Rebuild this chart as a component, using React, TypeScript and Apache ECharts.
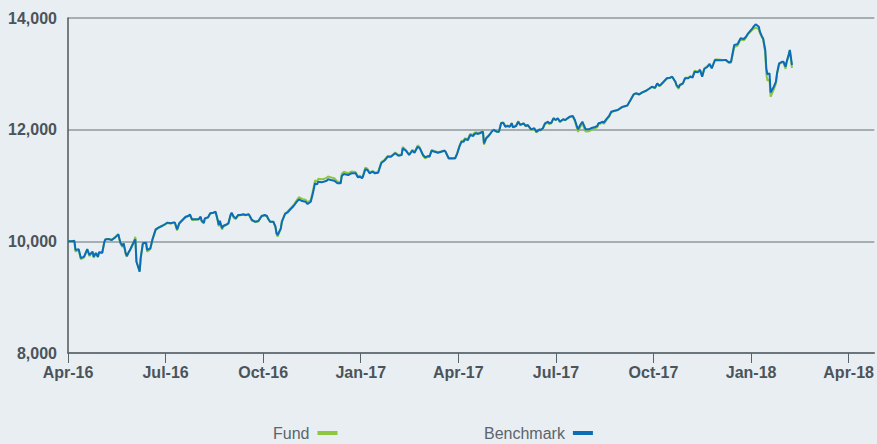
import React, { useEffect, useRef } from "react";
import * as echarts from "echarts";

const startDate = "2016-04-01";
const xTickLabels = ["Apr-16", "Jul-16", "Oct-16", "Jan-17", "Apr-17", "Jul-17", "Oct-17", "Jan-18", "Apr-18"];
const seriesNames = ["Fund", "Benchmark"];

const dates = [
  "2016-04-01","2016-04-05","2016-04-07","2016-04-08","2016-04-11","2016-04-13","2016-04-16","2016-04-19","2016-04-21","2016-04-24",
  "2016-04-25","2016-04-27","2016-04-29","2016-04-30","2016-05-03","2016-05-05","2016-05-06","2016-05-09","2016-05-12","2016-05-15",
  "2016-05-18","2016-05-20","2016-05-22","2016-05-23","2016-05-25","2016-05-26","2016-05-28","2016-05-29","2016-06-01","2016-06-03",
  "2016-06-04","2016-06-05","2016-06-07","2016-06-08","2016-06-10","2016-06-13","2016-06-14","2016-06-17","2016-06-19","2016-06-22",
  "2016-06-25","2016-06-28","2016-07-01","2016-07-03","2016-07-06","2016-07-09","2016-07-10","2016-07-12","2016-07-14","2016-07-17",
  "2016-07-20","2016-07-23","2016-07-24","2016-07-26","2016-07-29","2016-08-01","2016-08-03","2016-08-04","2016-08-06","2016-08-07",
  "2016-08-10","2016-08-12","2016-08-15","2016-08-17","2016-08-19","2016-08-20","2016-08-21","2016-08-23","2016-08-24","2016-08-26",
  "2016-08-29","2016-08-31","2016-09-01","2016-09-03","2016-09-05","2016-09-07","2016-09-09","2016-09-12","2016-09-14","2016-09-17",
  "2016-09-18","2016-09-20","2016-09-23","2016-09-26","2016-09-29","2016-10-02","2016-10-04","2016-10-05","2016-10-07","2016-10-10",
  "2016-10-12","2016-10-13","2016-10-14","2016-10-17","2016-10-18","2016-10-21","2016-10-23","2016-10-26","2016-10-29","2016-11-01",
  "2016-11-03","2016-11-06","2016-11-09","2016-11-11","2016-11-14","2016-11-16","2016-11-18","2016-11-20","2016-11-21","2016-11-24",
  "2016-11-26","2016-11-29","2016-11-30","2016-12-03","2016-12-06","2016-12-09","2016-12-12","2016-12-13","2016-12-15","2016-12-19",
  "2016-12-22","2016-12-24","2016-12-26","2016-12-28","2016-12-30","2017-01-01","2017-01-02","2017-01-04","2017-01-06","2017-01-08",
  "2017-01-11","2017-01-13","2017-01-16","2017-01-19","2017-01-22","2017-01-25","2017-01-28","2017-02-01","2017-02-04","2017-02-07",
  "2017-02-08","2017-02-11","2017-02-14","2017-02-17","2017-02-19","2017-02-22","2017-02-24","2017-02-27","2017-03-01","2017-03-04",
  "2017-03-05","2017-03-07","2017-03-10","2017-03-13","2017-03-16","2017-03-19","2017-03-20","2017-03-23","2017-03-26","2017-03-29",
  "2017-03-31","2017-04-02","2017-04-04","2017-04-06","2017-04-07","2017-04-10","2017-04-12","2017-04-15","2017-04-16","2017-04-18",
  "2017-04-19","2017-04-21","2017-04-24","2017-04-25","2017-04-27","2017-04-30","2017-05-03","2017-05-04","2017-05-07","2017-05-09",
  "2017-05-11","2017-05-13","2017-05-15","2017-05-17","2017-05-19","2017-05-21","2017-05-22","2017-05-25","2017-05-27","2017-05-29",
  "2017-06-01","2017-06-03","2017-06-05","2017-06-08","2017-06-11","2017-06-13","2017-06-16","2017-06-17","2017-06-19","2017-06-21",
  "2017-06-24","2017-06-25","2017-06-27","2017-06-29","2017-07-01","2017-07-03","2017-07-05","2017-07-08","2017-07-10","2017-07-12",
  "2017-07-14","2017-07-17","2017-07-19","2017-07-21","2017-07-22","2017-07-24","2017-07-26","2017-07-28","2017-07-29","2017-08-01",
  "2017-08-03","2017-08-06","2017-08-09","2017-08-10","2017-08-12","2017-08-14","2017-08-15","2017-08-18","2017-08-20","2017-08-22",
  "2017-08-25","2017-08-28","2017-09-01","2017-09-06","2017-09-09","2017-09-12","2017-09-14","2017-09-17","2017-09-20","2017-09-23",
  "2017-09-26","2017-09-29","2017-10-02","2017-10-04","2017-10-06","2017-10-07","2017-10-10","2017-10-13","2017-10-16","2017-10-18",
  "2017-10-21","2017-10-22","2017-10-24","2017-10-25","2017-10-28","2017-10-30","2017-11-02","2017-11-04","2017-11-06","2017-11-08",
  "2017-11-11","2017-11-13","2017-11-15","2017-11-17","2017-11-20","2017-11-22","2017-11-24","2017-11-27","2017-11-30","2017-12-04",
  "2017-12-07","2017-12-10","2017-12-12","2017-12-15","2017-12-18","2017-12-21","2017-12-24","2017-12-26","2017-12-28","2018-01-01",
  "2018-01-02","2018-01-04","2018-01-05","2018-01-07","2018-01-08","2018-01-10","2018-01-11","2018-01-13","2018-01-14","2018-01-15",
  "2018-01-17","2018-01-18","2018-01-21","2018-01-23","2018-01-24","2018-01-26","2018-01-29","2018-01-30","2018-02-01","2018-02-02",
  "2018-02-04","2018-02-05","2018-02-07"
];

const benchmark = [
  10000,10000,10010,9845,9860,9700,9725,9860,9755,9815,
  9725,9790,9725,9805,9795,9990,10035,10040,10025,10070,
  10125,9975,9915,9965,9785,9737,9815,9845,9965,10036,
  9635,9576,9455,9700,9965,9975,9845,9875,10036,10215,
  10250,10275,10310,10335,10323,10340,10334,10215,10323,10382,
  10441,10459,10484,10395,10395,10395,10441,10369,10334,10412,
  10430,10502,10513,10531,10382,10292,10369,10233,10275,10292,
  10323,10472,10513,10441,10412,10472,10472,10484,10472,10484,
  10454,10382,10352,10364,10454,10472,10454,10412,10352,10352,
  10262,10144,10113,10233,10352,10490,10513,10574,10633,10710,
  10753,10722,10710,10669,10710,10860,11039,11021,11068,11057,
  11068,11086,11111,11098,11086,11039,11039,11170,11206,11188,
  11218,11218,11218,11147,11158,11129,11170,11290,11278,11218,
  11247,11218,11229,11403,11448,11516,11516,11577,11534,11546,
  11666,11623,11546,11623,11587,11695,11666,11546,11505,11528,
  11516,11623,11605,11587,11605,11623,11605,11487,11487,11487,
  11577,11695,11784,11784,11827,11815,11904,11886,11922,11935,
  11922,11935,11963,11756,11845,11904,11981,11994,11963,11963,
  12114,12125,12053,12066,12053,12114,12042,12066,12143,12084,
  12114,12066,12084,12006,12024,11963,12006,11994,12024,12114,
  12143,12114,12125,12203,12173,12203,12143,12186,12173,12203,
  12232,12245,12173,12053,12006,12084,12143,12053,12006,12006,
  12024,12042,12066,12114,12125,12143,12125,12203,12245,12322,
  12340,12352,12405,12432,12531,12633,12651,12633,12669,12692,
  12728,12769,12751,12830,12787,12800,12859,12920,12931,12949,
  12859,12800,12751,12800,12830,12920,12920,12949,12931,13038,
  13027,13068,12949,13086,13128,13171,13099,13248,13245,13245,
  13250,13207,13217,13516,13529,13636,13624,13665,13726,13815,
  13844,13887,13874,13844,13755,13665,13636,13427,13099,12992,
  13009,12666,12769,12859,13009,13189,13217,13217,13128,13217,
  13350,13427,13158
];

const fund = [
  10000,10000,10005,9815,9850,9680,9710,9850,9735,9810,
  9705,9785,9715,9800,9790,9990,10040,10040,10030,10070,
  10130,9960,9900,9955,9770,9725,9810,9840,9970,10080,
  9640,9580,9460,9710,9960,9970,9815,9860,10030,10205,
  10245,10280,10310,10330,10320,10335,10330,10195,10315,10375,
  10430,10455,10480,10380,10385,10390,10435,10355,10320,10405,
  10425,10500,10510,10525,10365,10270,10355,10210,10260,10280,
  10315,10465,10500,10420,10400,10460,10465,10475,10465,10480,
  10445,10370,10345,10355,10445,10465,10450,10405,10345,10350,
  10255,10130,10085,10225,10355,10500,10525,10590,10650,10740,
  10790,10760,10745,10700,10740,10900,11090,11075,11120,11110,
  11115,11140,11160,11145,11130,11070,11060,11210,11245,11220,
  11250,11245,11240,11165,11175,11140,11185,11320,11300,11235,
  11260,11230,11240,11420,11460,11530,11525,11590,11545,11555,
  11690,11635,11550,11640,11595,11720,11680,11530,11485,11520,
  11510,11635,11615,11595,11610,11630,11610,11480,11480,11485,
  11580,11710,11800,11795,11845,11830,11925,11905,11945,11955,
  11940,11950,11975,11730,11840,11905,11990,12000,11960,11965,
  12125,12130,12060,12075,12055,12120,12040,12070,12150,12080,
  12115,12060,12080,11995,12015,11950,11995,11985,12020,12100,
  12125,12100,12115,12210,12170,12200,12140,12180,12170,12195,
  12225,12240,12155,12020,11960,12050,12110,12010,11965,11970,
  11990,12015,12045,12095,12110,12130,12105,12185,12235,12315,
  12335,12350,12400,12430,12525,12630,12650,12625,12665,12690,
  12725,12765,12745,12830,12780,12795,12855,12915,12930,12945,
  12850,12785,12730,12790,12825,12930,12935,12960,12940,13055,
  13040,13080,12955,13100,13140,13180,13105,13255,13255,13250,
  13245,13195,13200,13480,13500,13620,13600,13650,13715,13790,
  13805,13830,13820,13800,13730,13650,13620,13380,13000,12880,
  12900,12590,12720,12830,12990,13175,13205,13200,13090,13200,
  13335,13420,13105
];

const DAY = 86400000;
const t0 = Date.parse(startDate);
const toDay = (d: string) => (Date.parse(d) - t0) / DAY;

const FONT = "'Liberation Sans', Arial, Helvetica, sans-serif";

export default function App() {
  const ref = useRef<HTMLDivElement>(null);
  useEffect(() => {
    if (!ref.current) return;
    const chart = echarts.init(ref.current, null, { renderer: "svg" });
    const fundData = dates.map((d, i) => [toDay(d), fund[i]]);
    const benchData = dates.map((d, i) => [toDay(d), benchmark[i]]);
    const quarter = 91.25;
    const legendBase = {
      top: 420,
      align: "right",
      icon: "rect",
      itemWidth: 20,
      itemHeight: 4,
      selectedMode: false,
      textStyle: { fontSize: 16, color: "#5b656c", fontFamily: FONT, padding: [0, 3, 0, 0] },
    };
    chart.setOption({
      animation: false,
      backgroundColor: "#e9eef2",
      grid: { left: 68, top: 18, right: 0, bottom: 91, containLabel: false },
      legend: [
        { ...legendBase, data: [seriesNames[0]], left: 268 },
        { ...legendBase, data: [seriesNames[1]], left: 479 },
      ],
      xAxis: {
        type: "value",
        min: 0,
        max: 754,
        interval: quarter,
        axisLine: { show: true, lineStyle: { color: "#59636a", width: 1.5 } },
        axisTick: { show: true, length: 10, lineStyle: { color: "#59636a", width: 1 } },
        splitLine: { show: false },
        axisLabel: {
          showMaxLabel: false,
          margin: 11,
          fontSize: 16,
          fontWeight: "bold",
          color: "#4a545a",
          fontFamily: FONT,
          formatter: (v: number) => {
            const idx = Math.round(v / quarter);
            return xTickLabels[idx] ?? "";
          },
        },
      },
      yAxis: {
        type: "value",
        min: 8000,
        max: 14000,
        interval: 2000,
        axisLine: { show: true, lineStyle: { color: "#4d575d", width: 1.5 } },
        axisTick: { show: false },
        splitLine: { show: true, lineStyle: { color: "#8e989e", width: 1.5 } },
        axisLabel: {
          margin: 11,
          fontSize: 16,
          fontWeight: "bold",
          color: "#4a545a",
          fontFamily: FONT,
          formatter: (v: number) => v.toLocaleString("en-US"),
        },
      },
      series: [
        {
          name: seriesNames[0],
          type: "line",
          data: fundData,
          showSymbol: false,
          symbol: "none",
          itemStyle: { color: "#8dc63f" },
          lineStyle: { color: "#8dc63f", width: 2 },
        },
        {
          name: seriesNames[1],
          type: "line",
          data: benchData,
          showSymbol: false,
          symbol: "none",
          itemStyle: { color: "#0b6db7" },
          lineStyle: { color: "#0b6db7", width: 2 },
        },
      ],
    });
    return () => chart.dispose();
  }, []);
  return (
    <div
      ref={ref}
      style={{ position: "fixed", left: 0, top: 0, width: 877, height: 444, background: "#e9eef2" }}
    />
  );
}
